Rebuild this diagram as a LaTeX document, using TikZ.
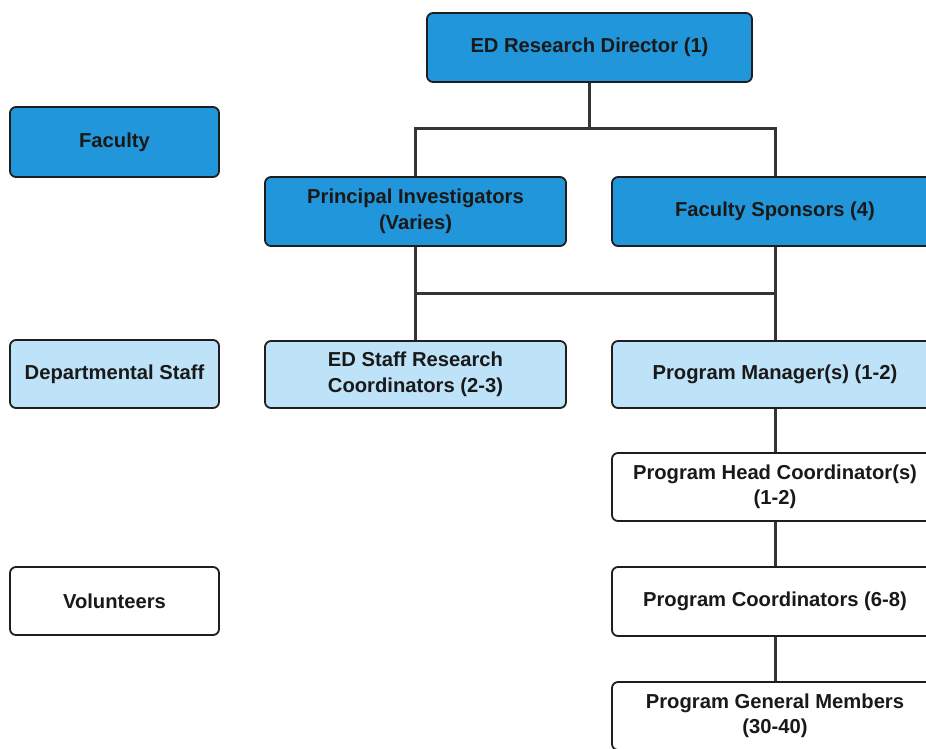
\documentclass[tikz,border=0pt]{standalone}
\usepackage{fontspec}
\setmainfont{Liberation Sans}
\definecolor{darkblue}{RGB}{34,150,218}
\definecolor{lightblue}{RGB}{190,227,248}
\definecolor{edge}{RGB}{30,30,30}
\begin{document}
\begin{tikzpicture}[x=1pt,y=-1pt,
  box/.style={draw=edge,line width=1.8pt,rounded corners=6pt,align=center,
    font=\bfseries\fontsize{20.2}{25.5}\selectfont,text=black!90,inner sep=2pt},
  dark/.style={box,fill=darkblue},
  light/.style={box,fill=lightblue},
  plain/.style={box,fill=white},
  link/.style={draw=edge!90,line width=3pt}]
\useasboundingbox (0,0) rectangle (926,748);
\node[dark,minimum width=325pt,minimum height=69pt] (top) at (589.5,47.5) {ED Research Director (1)};
\node[dark,minimum width=209pt,minimum height=70pt] (fac) at (114.5,142) {Faculty};
\node[dark,minimum width=301pt,minimum height=69pt] (pi) at (415.5,211.5) {Principal Investigators\\(Varies)};
\node[dark,minimum width=326pt,minimum height=69pt] (fs) at (775,211.5) {Faculty Sponsors (4)};
\node[light,minimum width=209pt,minimum height=68pt] (dept) at (114.5,374) {Departmental Staff};
\node[light,minimum width=301pt,minimum height=67pt] (es) at (415.5,374.5) {ED Staff Research\\Coordinators (2-3)};
\node[light,minimum width=326pt,minimum height=67pt] (pm) at (775,374.5) {Program Manager(s) (1-2)};
\node[plain,minimum width=326pt,minimum height=68pt] (phc) at (775,487) {Program Head Coordinator(s)\\(1-2)};
\node[plain,minimum width=209pt,minimum height=68pt] (vol) at (114.5,601) {Volunteers};
\node[plain,minimum width=326pt,minimum height=69pt] (pc) at (775,601.5) {Program Coordinators (6-8)};
\node[plain,minimum width=326pt,minimum height=68pt] (pgm) at (775,716) {Program General Members\\(30-40)};
\coordinate (b1) at (0,128);
\coordinate (b2) at (0,293);
\draw[link] (top.south) -- (top.south |- b1);
\draw[link] (pi.north) -- (pi.north |- b1) -- (fs.north |- b1) -- (fs.north);
\draw[link] (pi.south) -- (es.north);
\draw[link] (fs.south) -- (pm.north);
\draw[link] (pi.south |- b2) -- (fs.south |- b2);
\draw[link] (pm.south) -- (phc.north);
\draw[link] (phc.south) -- (pc.north);
\draw[link] (pc.south) -- (pgm.north);
\end{tikzpicture}
\end{document}
